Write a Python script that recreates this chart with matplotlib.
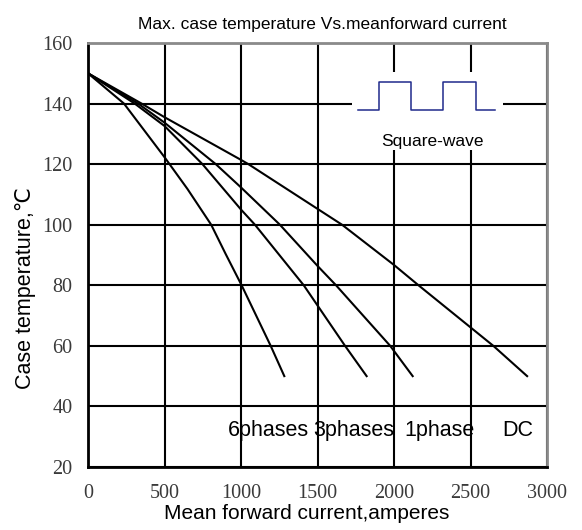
import matplotlib
matplotlib.use('Agg')
import matplotlib.pyplot as plt
from matplotlib.patches import Rectangle

# curves (mean forward current A, case temperature C)
i_6ph = [0, 235, 500, 650, 805, 900, 1004, 1194, 1283]
t_6ph = [150, 140, 122.3, 111.8, 100, 90.3, 80, 60, 50]

i_3ph = [0, 305, 500, 748, 1000, 1091, 1410, 1680, 1821]
t_3ph = [150, 140, 132.6, 120, 105, 100, 80, 60, 50]

i_1ph = [0, 327, 500, 835, 1000, 1254, 1500, 1621, 1975, 2122]
t_1ph = [150, 140, 133.7, 120, 112.3, 100, 86.4, 80, 60, 50]

i_dc = [0, 350, 500, 1000, 1048, 1660, 2000, 2160, 2649, 2870]
t_dc = [150, 140, 135.5, 121.4, 120, 100, 86.7, 80, 60, 50]

curve_names = ['6phases', '3phases', '1phase', 'DC']
name_x = [913, 1470, 2070, 2705]

# square-wave icon
wave_x = [1765, 1902, 1902, 2111, 2111, 2320, 2320, 2536, 2536, 2660]
wave_y = [137.9, 137.9, 147.1, 147.1, 137.9, 137.9, 147.1, 147.1, 137.9, 137.9]

xticks = [0, 500, 1000, 1500, 2000, 2500, 3000]
yticks = [20, 40, 60, 80, 100, 120, 140, 160]

fig = plt.figure(figsize=(5.82, 5.30), dpi=100)
ax = fig.add_axes([0.1512, 0.1189, 0.7887, 0.8])

ax.set_xlim(0, 3000)
ax.set_ylim(20, 160)
ax.set_xticks(xticks)
ax.set_yticks(yticks)
ax.grid(True, color='black', linewidth=1.5)
ax.set_axisbelow(True)
ax.tick_params(axis='y', length=0, pad=11, labelsize=14.5, labelcolor='#3a3a3a')
ax.tick_params(axis='x', length=0, pad=12, labelsize=14.5, labelcolor='#3a3a3a')
for lab in ax.get_xticklabels() + ax.get_yticklabels():
    lab.set_family('Liberation Serif')

for s in ['left', 'bottom']:
    ax.spines[s].set_linewidth(2)
    ax.spines[s].set_color('black')
for s in ['top', 'right']:
    ax.spines[s].set_linewidth(2)
    ax.spines[s].set_color('#8a8a8a')

for xs, ys in [(i_6ph, t_6ph), (i_3ph, t_3ph), (i_1ph, t_1ph), (i_dc, t_dc)]:
    ax.plot(xs, ys, color='black', linewidth=1.5, zorder=3)

# white box hiding the grid behind the icon
ax.add_patch(Rectangle((1725, 124.7), 987, 25.7, facecolor='white',
                       edgecolor='none', zorder=2))
ax.plot(wave_x, wave_y, color='#1f2a8c', linewidth=1.1, zorder=3)
ax.text(2248, 127.5, 'Square-wave', ha='center', va='center',
        fontsize=12.5, family='Liberation Sans', zorder=4)

for nm, xx in zip(curve_names, name_x):
    ax.text(xx, 32.2, nm, ha='left', va='center', fontsize=15.5,
            family='Liberation Sans', zorder=4)

fig.text(322 / 582, 1 - 25 / 530, 'Max. case temperature Vs.meanforward current',
         ha='center', va='center', fontsize=12.5, family='Liberation Sans')
ax.set_xlabel('Mean forward current,amperes', fontsize=15,
              family='Liberation Sans')
ax.xaxis.set_label_coords((307 - 88) / 459, -(504 - 467) / 424)
ax.set_ylabel('Case temperature,\u2103', fontsize=15.5,
              family=['Liberation Sans', 'DejaVu Sans'])
ax.yaxis.set_label_coords((36 - 88) / 459, (467 - 288) / 424)

fig.savefig('out.png', dpi=100)
